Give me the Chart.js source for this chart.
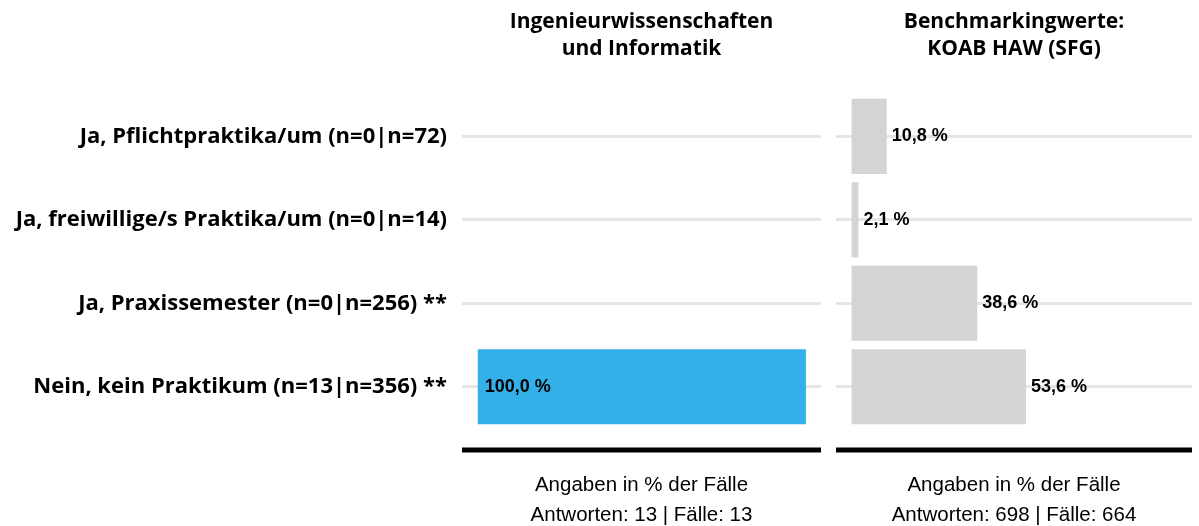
<!DOCTYPE html>
<html>
<head>
<meta charset="utf-8">
<script src="https://cdn.jsdelivr.net/npm/chart.js@4"></script>
<style>
  html, body { margin: 0; padding: 0; background: #fff; overflow: hidden; }
  #left { position: absolute; left: 0; top: 0; }
  #right { position: absolute; left: 828px; top: 0; }
</style>
</head>
<body>
<canvas id="left" width="828" height="540"></canvas>
<canvas id="right" width="371" height="540"></canvas>
<script>
const categories = [
    'Ja, Pflichtpraktika/um (n=0|n=72)',
    'Ja, freiwillige/s Praktika/um (n=0|n=14)',
    'Ja, Praxissemester (n=0|n=256) **',
    'Nein, kein Praktikum (n=13|n=356) **'
];
const groupValues = [0, 0, 0, 100];
const benchmarkValues = [10.8, 2.1, 38.6, 53.6];

const groupTitle = ['Ingenieurwissenschaften', 'und Informatik'];
const benchmarkTitle = ['Benchmarkingwerte:', 'KOAB HAW (SFG)'];
const groupNote = ['Angaben in % der Fälle', 'Antworten: 13 | Fälle: 13'];
const benchmarkNote = ['Angaben in % der Fälle', 'Antworten: 698 | Fälle: 664'];

const labelFont = '"Open Sans"';
const noteFont = '"Liberation Sans", Arial, sans-serif';

// value labels next to / inside the bars, plus the thick black base line
const barExtras = {
    id: 'barExtras',
    afterDatasetsDraw(chart) {
        const ctx = chart.ctx;
        const meta = chart.getDatasetMeta(0);
        const values = chart.data.datasets[0].data;
        ctx.save();
        ctx.font = 'bold 18px ' + noteFont;
        ctx.fillStyle = '#000';
        ctx.textBaseline = 'middle';
        ctx.textAlign = 'left';
        meta.data.forEach((bar, i) => {
            const v = values[i];
            if (!v) return;
            const text = v.toFixed(1).replace('.', ',') + ' %';
            if (v >= 90) {
                ctx.fillText(text, bar.base + 7, bar.y);
            } else {
                ctx.fillText(text, bar.x + 5, bar.y);
            }
        });
        const a = chart.chartArea;
        ctx.fillRect(a.left, a.bottom + 19, a.right - a.left, 5);
        ctx.restore();
    }
};

function makeChart(id, values, color, title, note, showLabels, padLeft) {
    return new Chart(document.getElementById(id), {
        type: 'bar',
        data: {
            labels: categories,
            datasets: [{
                data: values,
                backgroundColor: color,
                borderWidth: 0,
                categoryPercentage: 1,
                barPercentage: 0.9
            }]
        },
        options: {
            indexAxis: 'y',
            responsive: false,
            animation: false,
            layout: { padding: { left: padLeft, right: 7, top: 0, bottom: 0 } },
            scales: {
                x: {
                    display: false,
                    min: -4.8,
                    max: 104.6
                },
                y: {
                    z: 1,
                    offset: true,
                    border: { display: false },
                    grid: {
                        offset: false,
                        drawTicks: false,
                        color: 'rgba(190,190,190,0.4)',
                        lineWidth: 3
                    },
                    ticks: {
                        display: showLabels,
                        padding: 15,
                        color: '#000',
                        font: { family: labelFont, weight: 'bold', size: 22 }
                    },
                    afterFit: showLabels ? (s) => { s.width = 462; } : undefined
                }
            },
            plugins: {
                legend: { display: false },
                tooltip: { enabled: false },
                title: {
                    display: true,
                    text: title,
                    fullSize: false,
                    color: '#000',
                    font: { family: labelFont, weight: 'bold', size: 21, lineHeight: 1.3 },
                    padding: { top: 8, bottom: 32 }
                },
                subtitle: {
                    display: true,
                    position: 'bottom',
                    text: note,
                    fullSize: false,
                    color: '#000',
                    font: { family: noteFont, size: 20.5, lineHeight: 1.5 },
                    padding: { top: 41, bottom: 9 }
                }
            }
        },
        plugins: [barExtras]
    });
}

makeChart('left', groupValues, '#34b0e9', groupTitle, groupNote, true, 0);
makeChart('right', benchmarkValues, '#d4d4d4', benchmarkTitle, benchmarkNote, false, 8);
</script>
</body>
</html>
